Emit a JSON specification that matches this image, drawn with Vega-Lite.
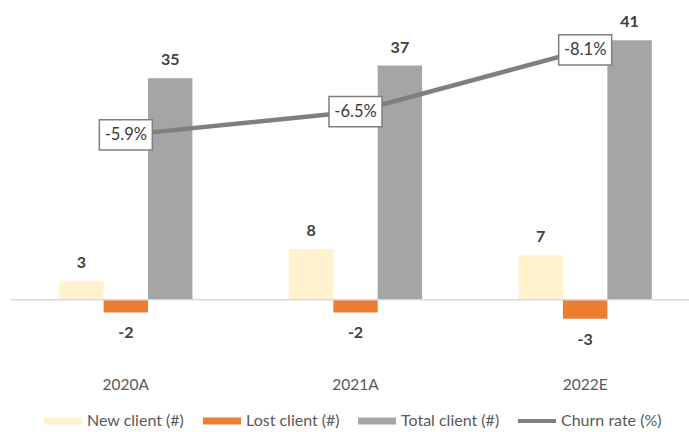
{
  "$schema": "https://vega.github.io/schema/vega-lite/v6.json",
  "width": 689,
  "height": 348,
  "padding": {"left": 10, "top": 14, "right": 0, "bottom": 0},
  "background": "white",
  "config": {
    "view": {"stroke": null},
    "font": "Lato",
    "locale": {"number": {"decimal": ".", "thousands": ",", "grouping": [3], "currency": ["$", ""], "minus": "-"}}
  },
  "layer": [
    {
      "data": {"values": [
        {"year": "2020A", "series": "New client (#)", "value": 3},
        {"year": "2020A", "series": "Lost client (#)", "value": -2},
        {"year": "2020A", "series": "Total client (#)", "value": 35},
        {"year": "2021A", "series": "New client (#)", "value": 8},
        {"year": "2021A", "series": "Lost client (#)", "value": -2},
        {"year": "2021A", "series": "Total client (#)", "value": 37},
        {"year": "2022E", "series": "New client (#)", "value": 7},
        {"year": "2022E", "series": "Lost client (#)", "value": -3},
        {"year": "2022E", "series": "Total client (#)", "value": 41}
      ]},
      "layer": [
        {
          "mark": {"type": "bar"},
          "encoding": {
            "x": {"field": "year", "type": "nominal", "sort": null,
              "scale": {"paddingInner": 0.42, "paddingOuter": 0.21},
              "axis": {"title": null, "domain": false, "ticks": false, "labelAngle": 0, "labelPadding": 14, "labelFont": "Lato", "labelFontSize": 15.5, "labelColor": "#595959"}},
            "xOffset": {"field": "series", "type": "nominal", "sort": ["New client (#)", "Lost client (#)", "Total client (#)"], "scale": {"paddingInner": 0, "paddingOuter": 0}},
            "y": {"field": "value", "type": "quantitative", "scale": {"domain": [-10, 45]}, "axis": null},
            "color": {"field": "series", "type": "nominal",
              "scale": {"domain": ["New client (#)", "Lost client (#)", "Total client (#)", "Churn rate (%)"], "range": ["#FFF2CC", "#ED7D31", "#A5A5A5", "#7F7F7F"]},
              "legend": {"title": null, "orient": "none", "legendX": 33, "legendY": 387, "direction": "horizontal", "columns": 4,
                "symbolType": "M-1,-0.19H1V0.19H-1Z", "symbolSize": 1444, "symbolStrokeWidth": 0, "symbolOpacity": 1,
                "labelFont": "Lato", "labelFontSize": 16, "labelColor": "#595959", "labelOffset": 5, "columnPadding": 18,
                "encode": {"symbols": {"update": {"shape": {"signal": "datum.value === 'Churn rate (%)' ? 'M-1,-0.1H1V0.1H-1Z' : 'M-1,-0.19H1V0.19H-1Z'"}}}}}}
          }
        },
        {
          "data": {"values": [{"zero": 0}]},
          "mark": {"type": "rule", "color": "#D9D9D9", "strokeWidth": 1.5},
          "encoding": {"y": {"field": "zero", "type": "quantitative"}}
        },
        {
          "transform": [{"filter": "datum.value > 0"}],
          "mark": {"type": "text", "baseline": "alphabetic", "dy": -13, "font": "Lato", "fontSize": 16, "fontWeight": "bold", "color": "#404040"},
          "encoding": {
            "x": {"field": "year", "type": "nominal", "sort": null},
            "xOffset": {"field": "series", "type": "nominal", "sort": ["New client (#)", "Lost client (#)", "Total client (#)"]},
            "y": {"field": "value", "type": "quantitative"},
            "text": {"field": "value", "type": "quantitative"}
          }
        },
        {
          "transform": [{"filter": "datum.value < 0"}],
          "mark": {"type": "text", "baseline": "alphabetic", "dy": 26, "font": "Lato", "fontSize": 16, "fontWeight": "bold", "color": "#404040"},
          "encoding": {
            "x": {"field": "year", "type": "nominal", "sort": null},
            "xOffset": {"field": "series", "type": "nominal", "sort": ["New client (#)", "Lost client (#)", "Total client (#)"]},
            "y": {"field": "value", "type": "quantitative"},
            "text": {"field": "value", "type": "quantitative"}
          }
        }
      ]
    },
    {
      "data": {"values": [
        {"year": "2020A", "churn": -0.059},
        {"year": "2021A", "churn": -0.065},
        {"year": "2022E", "churn": -0.081}
      ]},
      "encoding": {
        "x": {"field": "year", "type": "nominal", "sort": null},
        "y": {"field": "churn", "type": "quantitative", "scale": {"domain": [-0.09, 0], "reverse": true}, "axis": null}
      },
      "layer": [
        {"mark": {"type": "line", "color": "#7F7F7F", "strokeWidth": 4.5}},
        {"mark": {"type": "point", "shape": "M-1,-0.57H1V0.57H-1Z", "size": 2809, "filled": true, "fill": "white", "stroke": "#7F7F7F", "strokeWidth": 1.5, "opacity": 1}},
        {"mark": {"type": "text", "font": "Lato", "fontSize": 16.5, "color": "#3A3A3A"},
         "encoding": {"text": {"field": "churn", "type": "quantitative", "format": ".1%"}}}
      ]
    }
  ],
  "resolve": {"scale": {"y": "independent"}}
}
